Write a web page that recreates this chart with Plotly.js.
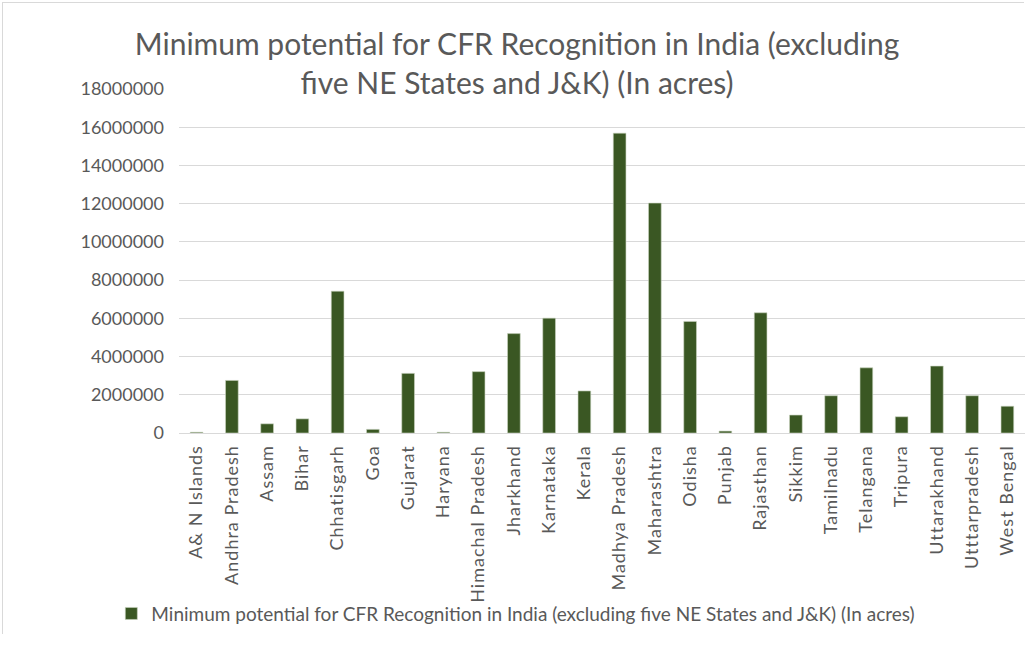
<!DOCTYPE html>
<html>
<head>
<meta charset="utf-8">
<script src="https://cdn.plot.ly/plotly-3.0.1.min.js"></script>
<style>
  html, body { margin: 0; padding: 0; background: #fff; }
  #chart { position: absolute; left: 2px; top: 2px; width: 1022px; height: 632px; border: 1px solid #d9d9d9; box-sizing: border-box; }
  #chart .xtick text { letter-spacing: 1px; }
</style>
</head>
<body>
<div id="chart"></div>
<script>
const states = ["A& N Islands", "Andhra Pradesh", "Assam", "Bihar", "Chhatisgarh", "Goa", "Gujarat", "Haryana", "Himachal Pradesh", "Jharkhand", "Karnataka", "Kerala", "Madhya Pradesh", "Maharashtra", "Odisha", "Punjab", "Rajasthan", "Sikkim", "Tamilnadu", "Telangana", "Tripura", "Uttarakhand", "Utttarpradesh", "West Bengal"];
const cfrAcres = [40000, 2750000, 480000, 740000, 7420000, 190000, 3120000, 40000, 3210000, 5200000, 6010000, 2200000, 15690000, 12030000, 5840000, 100000, 6290000, 940000, 1950000, 3410000, 850000, 3500000, 1950000, 1400000];
const yTicks = [0, 2000000, 4000000, 6000000, 8000000, 10000000, 12000000, 14000000, 16000000, 18000000];
const seriesName = "Minimum potential for CFR Recognition in India (excluding five NE States and J&K) (In acres)";
const chartTitle = "Minimum potential for CFR Recognition in India (excluding<br>five NE States and J&K) (In acres)";

const fontFam = "Lato, 'Open Sans', sans-serif";
const trace = {
  type: "bar",
  x: states,
  y: cfrAcres,
  name: seriesName,
  marker: { color: "#3a5723", line: { color: "#c9d3bf", width: 0.6 } },
  showlegend: true
};
const layout = {
  width: 1022, height: 632,
  paper_bgcolor: "#fff", plot_bgcolor: "#fff",
  margin: { l: 176, r: 0, t: 86, b: 202 },
  font: { family: fontFam, color: "#595959", size: 14 },
  title: { text: chartTitle, font: { family: fontFam, size: 30, color: "#595959" }, x: 0.503, xanchor: "center", yref: "container", y: 0.918, yanchor: "bottom" },
  bargap: 0.64,
  xaxis: {
    tickangle: -90, tickfont: { size: 18, color: "#595959" }, ticklabelstandoff: 4,
    showline: true, linecolor: "#d9d9d9", linewidth: 1, ticks: "", automargin: false
  },
  yaxis: {
    range: [0, 18000000], tickvals: yTicks, ticktext: yTicks.map(String),
    tickfont: { size: 18, color: "#595959" }, gridcolor: "#d9d9d9", gridwidth: 1,
    zeroline: false, showline: false, ticks: "", ticklen: 0, ticklabelstandoff: 14, automargin: false
  },
  legend: {
    orientation: "h", x: -0.08, xanchor: "left", y: -0.525, yanchor: "middle",
    bgcolor: "rgba(0,0,0,0)",
    font: { size: 19, color: "#595959" }, itemwidth: 30
  },
  showlegend: true
};
Plotly.newPlot("chart", [trace], layout, { displayModeBar: false, staticPlot: true });
</script>
</body>
</html>
